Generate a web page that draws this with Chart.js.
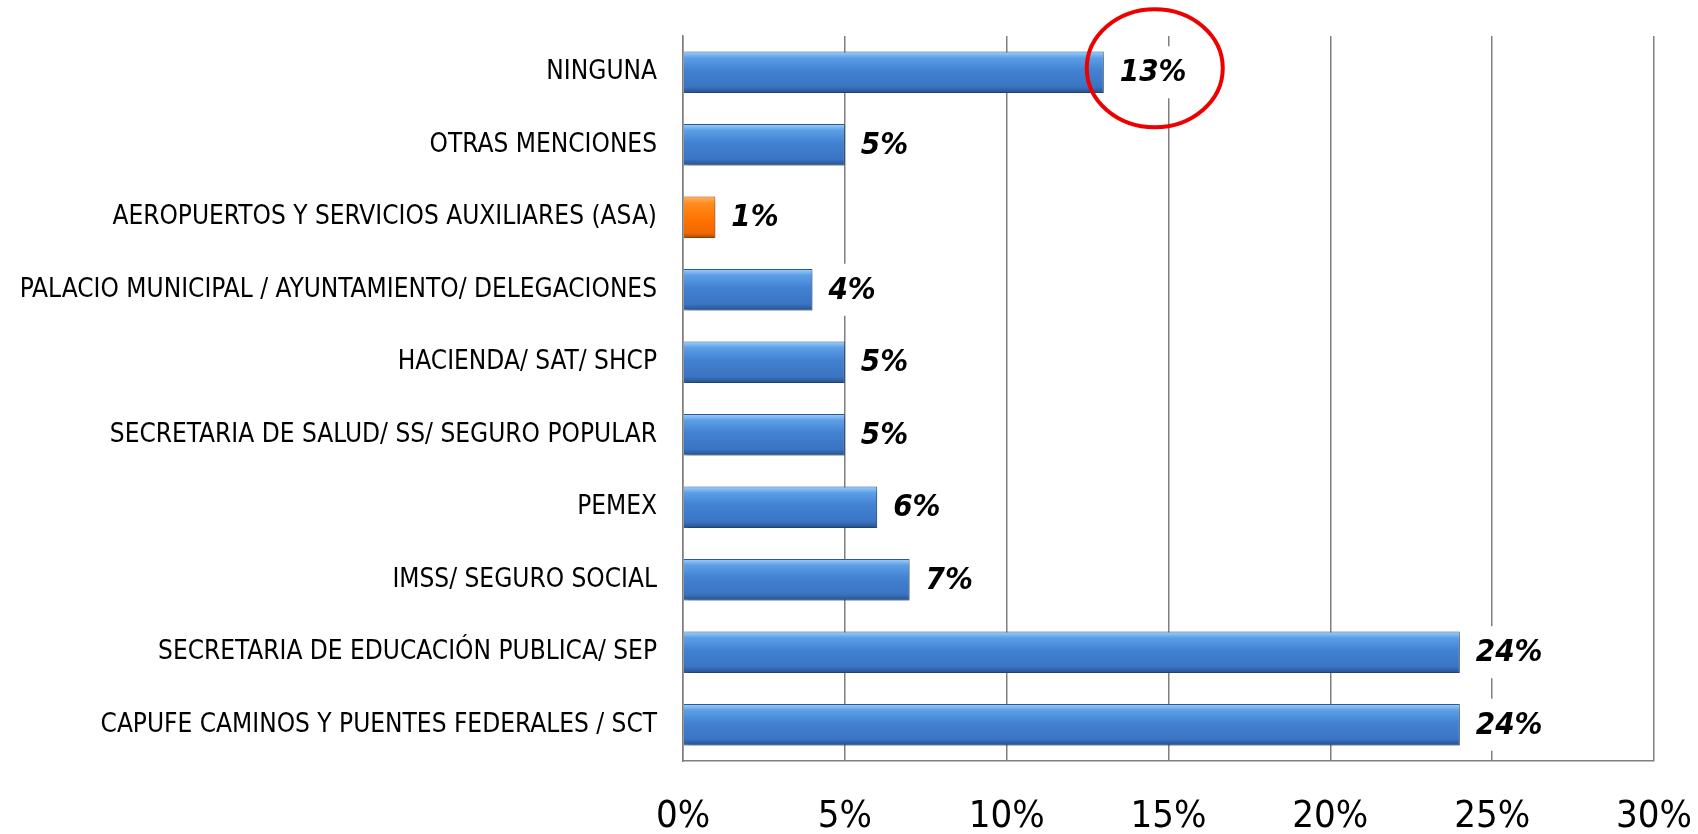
<!DOCTYPE html>
<html>
<head>
<meta charset="utf-8">
<script src="https://cdn.jsdelivr.net/npm/chart.js@4"></script>
<style>
  html, body { margin: 0; padding: 0; background: #fff; }
  #wrap { width: 1698px; height: 834px; }
</style>
</head>
<body>
<div id="wrap"><canvas id="chart" width="1698" height="834"></canvas></div>
<script>
// categories top to bottom, as in the picture
const categories = [
  'NINGUNA',
  'OTRAS MENCIONES',
  'AEROPUERTOS Y SERVICIOS AUXILIARES (ASA)',
  'PALACIO MUNICIPAL / AYUNTAMIENTO/ DELEGACIONES',
  'HACIENDA/ SAT/ SHCP',
  'SECRETARIA DE SALUD/ SS/ SEGURO POPULAR',
  'PEMEX',
  'IMSS/ SEGURO SOCIAL',
  'SECRETARIA DE EDUCACIÓN PUBLICA/ SEP',
  'CAPUFE CAMINOS Y PUENTES FEDERALES / SCT'
];
const percentages = [13, 5, 1, 4, 5, 5, 6, 7, 24, 24];
const highlighted = [false, false, true, false, false, false, false, false, false, false];
const circledIndex = 0;
const xTicks = [0, 5, 10, 15, 20, 25, 30];

const labelFont = '"Liberation Sans Narrow", "DejaVu Sans Condensed", "Liberation Sans", sans-serif';

// bevel-like gradient on each bar, plus a soft shadow
const barStyle = {
  id: 'barStyle',
  beforeDatasetsDraw(chart) {
    const ctx = chart.ctx;
    const meta = chart.getDatasetMeta(0);
    meta.data.forEach((bar, i) => {
      const top = bar.y - bar.height / 2;
      const bottom = bar.y + bar.height / 2;
      const g = ctx.createLinearGradient(0, top, 0, bottom);
      if (highlighted[i]) {
        g.addColorStop(0, '#ffb060');
        g.addColorStop(0.18, '#ff8a1e');
        g.addColorStop(0.55, '#ff7300');
        g.addColorStop(0.88, '#f06800');
        g.addColorStop(1, '#b04a00');
      } else {
        g.addColorStop(0, '#9fd0fb');
        g.addColorStop(0.15, '#5c9fe6');
        g.addColorStop(0.45, '#4282d2');
        g.addColorStop(0.85, '#3a74c2');
        g.addColorStop(1, '#25508e');
      }
      bar.options.backgroundColor = g;
      bar.options.borderColor = highlighted[i] ? '#b85000' : '#2c5a9a';
    });
    ctx.save();
    ctx.shadowColor = 'rgba(0,0,0,0.35)';
    ctx.shadowBlur = 5;
    ctx.shadowOffsetX = 2;
    ctx.shadowOffsetY = 3;
  },
  afterDatasetsDraw(chart) {
    const ctx = chart.ctx;
    ctx.restore();
    const meta = chart.getDatasetMeta(0);
    ctx.save();
    ctx.font = 'italic bold 31px ' + labelFont;
    ctx.textAlign = 'left';
    ctx.textBaseline = 'middle';
    meta.data.forEach((bar, i) => {
      const txt = percentages[i] + '%';
      const w = ctx.measureText(txt).width;
      // labels sit on a white box that hides the gridlines behind them
      ctx.fillStyle = '#fff';
      ctx.fillRect(bar.x + 6, bar.y - 26, w + 18, 52);
      ctx.fillStyle = '#000';
      ctx.fillText(txt, bar.x + 16, bar.y + 1);
    });
    // red circle round the first label
    const b = meta.data[circledIndex];
    ctx.strokeStyle = '#ee0000';
    ctx.lineWidth = 4;
    ctx.beginPath();
    ctx.ellipse(b.x + 51, b.y - 4, 68, 59, 0, 0, Math.PI * 2);
    ctx.stroke();
    ctx.restore();
  }
};

new Chart(document.getElementById('chart'), {
  type: 'bar',
  data: {
    labels: categories,
    datasets: [{
      data: percentages,
      // scriptable so every bar keeps its own options object
      backgroundColor: c => highlighted[c.dataIndex] ? '#ff7300' : '#4282d2',
      borderWidth: 1,
      categoryPercentage: 1,
      barPercentage: 0.57
    }]
  },
  options: {
    indexAxis: 'y',
    responsive: false,
    animation: false,
    layout: { padding: { top: 36, right: 44, left: 0, bottom: 0 } },
    plugins: { legend: { display: false }, tooltip: { enabled: false } },
    scales: {
      x: {
        min: 0,
        max: 30,
        afterBuildTicks(scale) { scale.ticks = xTicks.map(v => ({ value: v })); },
        afterFit(scale) {
          scale.height = 73;
          scale.paddingLeft = 0;
          scale.paddingRight = 0;
        },
        ticks: {
          padding: 33,
          color: '#000',
          font: { family: labelFont, size: 38 },
          callback: v => v + '%'
        },
        grid: { color: '#7f7f7f', lineWidth: 1.5, drawTicks: false },
        border: { color: '#7f7f7f', width: 1.5 }
      },
      y: {
        afterFit(scale) {
          scale.width = 683;
          scale.paddingTop = 0;
          scale.paddingBottom = 0;
        },
        ticks: {
          padding: 26,
          color: '#000',
          font: { family: labelFont, size: 26 }
        },
        grid: { display: false, drawTicks: false },
        border: { color: '#7f7f7f', width: 1.5 }
      }
    }
  },
  plugins: [barStyle]
});
</script>
</body>
</html>
